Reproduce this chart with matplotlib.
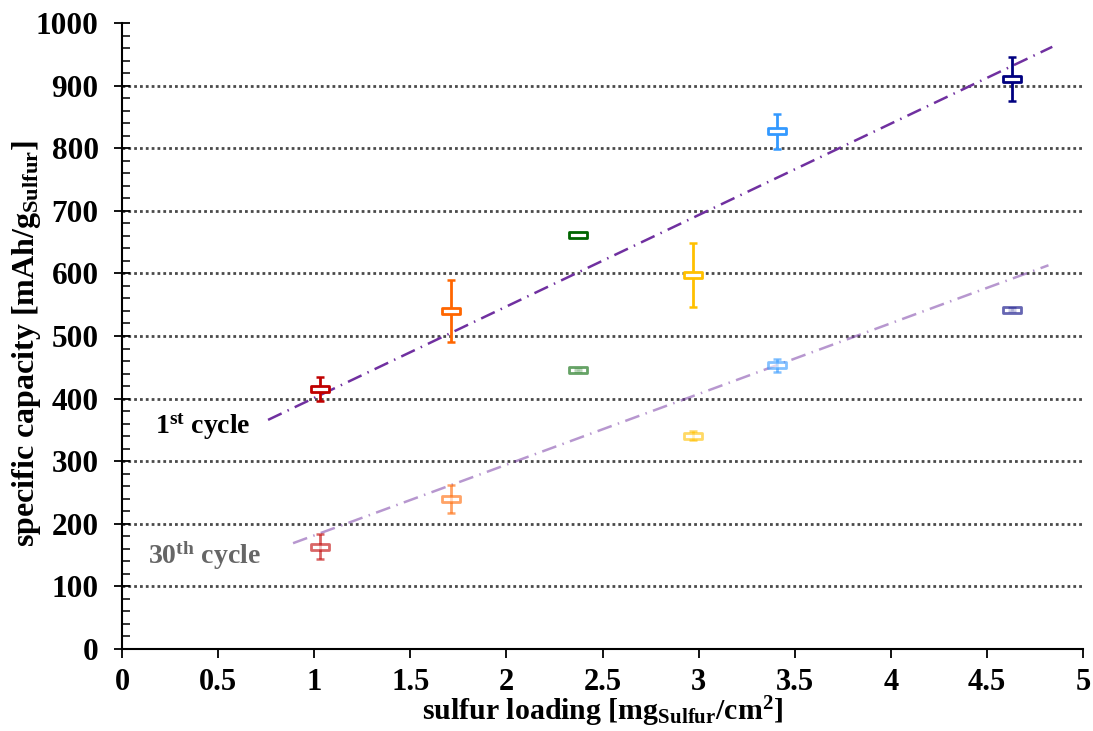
import matplotlib
matplotlib.use("Agg")
import matplotlib.pyplot as plt
from matplotlib.path import Path
from matplotlib.ticker import FixedLocator, FixedFormatter, MultipleLocator

# sulfur loading of each electrode [mg/cm2]
loading = [1.03, 1.71, 2.37, 2.97, 3.41, 4.63]
sample_colors = ["#C00000", "#FF6600", "#006600", "#FFC000", "#3399FF", "#000080"]

# specific capacity [mAh/g] and error (std) for 1st and 30th cycle
cap_1st = [415, 540, 662, 597, 827, 910]
err_1st = [19, 50, 3, 51, 28, 35]
cap_30th = [163, 240, 446, 341, 453, 542]
err_30th = [20, 22, 2, 7, 10, 2]

# linear trend lines (start / end)
trend_1st_x = [0.76, 4.84]
trend_1st_y = [366, 962]
trend_30th_x = [0.89, 4.82]
trend_30th_y = [169, 613]

x_ticks = [0, 0.5, 1, 1.5, 2, 2.5, 3, 3.5, 4, 4.5, 5]
x_tick_labels = ["0", "0.5", "1", "1.5", "2", "2.5", "3", "3.5", "4", "4.5", "5"]
y_ticks = [0, 100, 200, 300, 400, 500, 600, 700, 800, 900, 1000]
y_tick_labels = [str(v) for v in y_ticks]

plt.rcParams["font.family"] = ["Liberation Serif", "DejaVu Serif"]
plt.rcParams["font.weight"] = "bold"
plt.rcParams["mathtext.fontset"] = "custom"
plt.rcParams["mathtext.rm"] = "Liberation Serif:bold"
plt.rcParams["mathtext.bf"] = "Liberation Serif:bold"
plt.rcParams["mathtext.it"] = "Liberation Serif:bold"

fig = plt.figure(figsize=(10.93, 7.31), dpi=100)
ax = fig.add_axes([0.1116, 0.1122, 0.8793, 0.8563])

# flat box marker
box = Path([(-1.5, -0.5), (1.5, -0.5), (1.5, 0.5), (-1.5, 0.5), (-1.5, -0.5)],
           [Path.MOVETO, Path.LINETO, Path.LINETO, Path.LINETO, Path.CLOSEPOLY])

purple = "#7030A0"
dash_dot = (0, (6.0, 2.6, 0.6, 2.6))
ax.plot(trend_1st_x, trend_1st_y, color=purple, lw=1.8, ls=dash_dot, zorder=2)
ax.plot(trend_30th_x, trend_30th_y, color=purple, alpha=0.5, lw=1.8, ls=dash_dot, zorder=2)

for x, y1, e1, y30, e30, c in zip(loading, cap_1st, err_1st, cap_30th, err_30th, sample_colors):
    ax.errorbar(x, y1, yerr=e1, fmt="none", ecolor=c, elinewidth=2.0, capsize=3.0,
                capthick=1.8, zorder=3)
    ax.plot(x, y1, marker=box, ms=13, mfc="white", mec=c, mew=2.0, ls="none", zorder=4)
    ax.errorbar(x, y30, yerr=e30, fmt="none", ecolor=c, elinewidth=2.0, capsize=3.0,
                capthick=1.8, alpha=0.6, zorder=3)
    ax.plot(x, y30, marker=box, ms=13, mfc="white", mec=c, mew=2.0, ls="none",
            alpha=0.6, zorder=4)

ax.set_xlim(0, 5)
ax.set_ylim(0, 1000)

ax.xaxis.set_major_locator(FixedLocator(x_ticks))
ax.xaxis.set_major_formatter(FixedFormatter(x_tick_labels))
ax.yaxis.set_major_locator(FixedLocator(y_ticks))
ax.yaxis.set_major_formatter(FixedFormatter(y_tick_labels))
ax.yaxis.set_minor_locator(MultipleLocator(20))

ax.tick_params(axis="x", which="major", direction="out", length=6.5, width=1.3,
               labelsize=22, pad=7)
ax.tick_params(axis="y", which="major", direction="inout", length=11.5, width=1.3,
               labelsize=22.5, pad=11)
ax.tick_params(axis="y", which="minor", direction="in", length=6, width=1.1)
for lab in ax.get_xticklabels() + ax.get_yticklabels():
    lab.set_fontweight("bold")

for side in ("top", "right"):
    ax.spines[side].set_visible(False)
for side in ("left", "bottom"):
    ax.spines[side].set_linewidth(1.5)
    ax.spines[side].set_zorder(5)

ax.yaxis.grid(True, which="major", color="#4a4a4a", lw=2.0, ls=(0, (1, 1.1)), zorder=0)
ax.set_axisbelow(True)
gl = ax.yaxis.get_gridlines()
gl[0].set_visible(False)
gl[-1].set_visible(False)

ax.set_xlabel(r"sulfur loading [mg$_{\mathbf{Sulfur}}$/cm$^{\mathbf{2}}$]",
              fontsize=21.5, fontweight="bold", va="bottom")
ax.xaxis.set_label_coords(0.5, -0.1275)
ax.set_ylabel(r"specific capacity [mAh/g$_{\mathbf{Sulfur}}$]",
              fontsize=23, fontweight="bold")
ax.yaxis.set_label_coords(-0.082, 0.487)

ax.text(0.17, 355, r"1$^{\mathbf{st}}$ cycle", fontsize=20, fontweight="bold",
        color="black", ha="left", va="center")
ax.text(0.135, 149, r"30$^{\mathbf{th}}$ cycle", fontsize=20, fontweight="bold",
        color="#666666", ha="left", va="center")

fig.savefig("out.png", dpi=100, facecolor="white")
